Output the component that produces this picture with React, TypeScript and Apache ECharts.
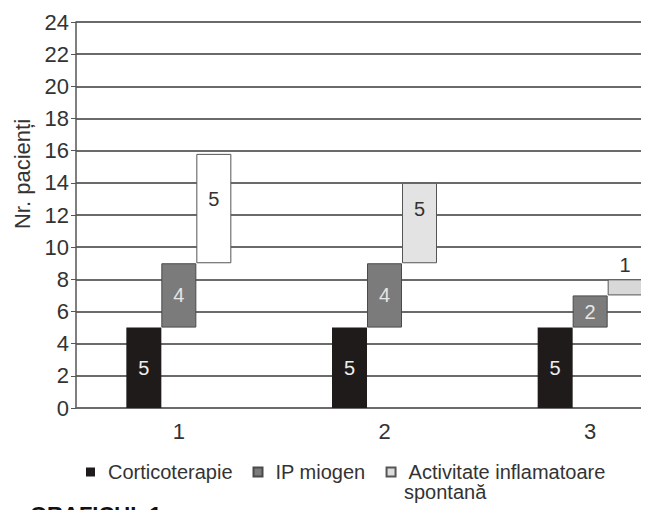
import React, { useEffect, useRef } from "react";
import * as echarts from "echarts";

const categories = ["1", "2", "3"];
const corticoterapie = [5, 5, 5];
const ipMiogen = [4, 4, 2];
const activitate = [6.8, 5, 1];
const activitateLabels = [5, 5, 1];
const yMin = 0;
const yMax = 24;
const yInterval = 2;

const FONT = "'Liberation Sans', Arial, sans-serif";

export default function App() {
  const ref = useRef<HTMLDivElement>(null);
  useEffect(() => {
    if (!ref.current) return;
    const chart = echarts.init(ref.current, undefined, { renderer: "svg" });
    const ipBase = corticoterapie.slice();
    const actBase = corticoterapie.map((v, i) => v + ipMiogen[i]);
    const actColors = ["#ffffff", "#e3e3e3", "#d8d8d8"];
    const actOffsets = [[0, -10], [0, -14], [0, 0]];
    chart.setOption({
      animation: false,
      backgroundColor: "#ffffff",
      textStyle: { fontFamily: FONT },
      grid: { left: 76, right: 7, top: 22, bottom: 102 },
      legend: {
        data: ["Corticoterapie", "IP miogen", "Activitate inflamatoare spontană"],
        left: 81,
        top: 457,
        itemWidth: 9,
        itemHeight: 9,
        itemGap: 20,
        icon: "rect",
        textStyle: { fontSize: 20, lineHeight: 17, color: "#333", fontFamily: FONT, padding: [0, 0, 0, 8] },
        formatter: (n: string) => (n === "Activitate inflamatoare spontană" ? "Activitate inflamatoare" : n),
      },
      graphic: [
        {
          type: "text",
          x: 22,
          y: 174,
          rotation: Math.PI / 2,
          style: {
            text: "Nr. pacienți",
            fontSize: 22,
            fontFamily: FONT,
            fill: "#333",
            textAlign: "center",
            textVerticalAlign: "middle",
          },
        },
        {
          type: "text",
          x: 404,
          y: 492,
          style: {
            text: "spontană",
            fontSize: 20,
            lineHeight: 17,
            fontFamily: FONT,
            fill: "#333",
            textVerticalAlign: "middle",
          },
        },
        {
          type: "text",
          x: 30,
          y: 514,
          style: {
            text: "GRAFICUL 1",
            fontSize: 22,
            fontWeight: "bold",
            fontFamily: FONT,
            fill: "#111",
            textVerticalAlign: "middle",
          },
        },
      ],
      xAxis: {
        type: "category",
        data: categories,
        axisLine: { show: true, lineStyle: { color: "#6a6a6a", width: 2 } },
        axisTick: { show: false },
        axisLabel: { fontSize: 22, color: "#333", margin: 12, fontFamily: FONT },
      },
      yAxis: {
        type: "value",
        min: yMin,
        max: yMax,
        interval: yInterval,
        axisLine: { show: true, lineStyle: { color: "#555", width: 1.5 } },
        axisTick: { show: true, length: 5, lineStyle: { color: "#555" } },
        axisLabel: { fontSize: 22, color: "#333", margin: 7, fontFamily: FONT },
        splitLine: { show: true, lineStyle: { color: "#6a6a6a", width: 2 } },
      },
      series: [
        {
          name: "Corticoterapie",
          type: "bar",
          stack: "a",
          barWidth: 35,
          barGap: "0%",
          data: corticoterapie,
          itemStyle: { color: "#1f1b1b" },
          label: { show: true, position: "inside", color: "#eeeeee", fontSize: 20, fontFamily: FONT },
        },
        {
          name: "baseB",
          type: "bar",
          stack: "b",
          barWidth: 35,
          barGap: "0%",
          silent: true,
          data: ipBase,
          itemStyle: { color: "transparent" },
        },
        {
          name: "IP miogen",
          type: "bar",
          stack: "b",
          barWidth: 35,
          barGap: "0%",
          data: ipMiogen,
          itemStyle: { color: "#7b7b7b", borderColor: "#4a4a4a", borderWidth: 1 },
          label: { show: true, position: "inside", color: "#e6e6e6", fontSize: 20, fontFamily: FONT },
        },
        {
          name: "baseC",
          type: "bar",
          stack: "c",
          barWidth: 35,
          barGap: "0%",
          silent: true,
          data: actBase,
          itemStyle: { color: "transparent" },
        },
        {
          name: "Activitate inflamatoare spontană",
          type: "bar",
          stack: "c",
          barWidth: 35,
          barGap: "0%",
          data: activitate.map((v, i) => ({
            value: v,
            itemStyle: { color: actColors[i] },
            label: {
              position: i === 2 ? "top" : "inside",
              offset: actOffsets[i],
            },
          })),
          itemStyle: { color: "#dcdcdc", borderColor: "#555", borderWidth: 1 },
          label: {
            show: true,
            color: "#333",
            fontSize: 20,
            fontFamily: FONT,
            distance: 4,
            formatter: (p: any) => String(activitateLabels[p.dataIndex]),
          },
        },
      ],
    });
    return () => chart.dispose();
  }, []);
  return (
    <div
      style={{
        position: "fixed",
        left: 0,
        top: 0,
        width: 641,
        height: 510,
        overflow: "hidden",
        background: "#fff",
      }}
    >
      <div ref={ref} style={{ width: 700, height: 510 }} />
    </div>
  );
}
